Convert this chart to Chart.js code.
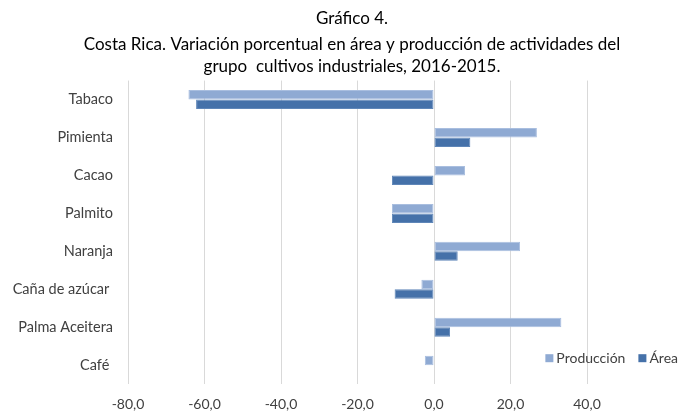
<!DOCTYPE html>
<html>
<head>
<meta charset="utf-8">
<script src="https://cdn.jsdelivr.net/npm/chart.js@4/dist/chart.umd.min.js"></script>
<style>
  html, body { margin: 0; padding: 0; background: #fff; }
  #wrap { width: 679px; height: 411px; }
</style>
</head>
<body>
<div id="wrap"><canvas id="grafico"></canvas></div>
<script>
const cultivos = ['Tabaco', 'Pimienta', 'Cacao', 'Palmito', 'Naranja', 'Caña de azúcar ', 'Palma Aceitera', 'Café '];
const produccion = [-64.2, 26.9, 8.1, -11.0, 22.5, -3.3, 33.3, -2.4];
const area = [-62.2, 9.5, -11.0, -11.0, 6.2, -10.3, 4.2, 0.0];
const ticksX = [-80, -60, -40, -20, 0, 20, 40];

const colorProd = '#8faad3';
const colorArea = '#4571a9';

// leyenda dibujada a mano, abajo a la derecha como en el original
const leyendaAbajo = {
    id: 'leyendaAbajo',
    afterDraw(chart) {
        const ctx = chart.ctx;
        const y = chart.chartArea.bottom - 26;
        ctx.save();
        ctx.font = '14px Lato';
        ctx.textBaseline = 'middle';
        let x = chart.width - 1;
        const items = chart.data.datasets.slice().reverse();
        items.forEach(ds => {
            const w = ctx.measureText(ds.label).width;
            x -= w;
            ctx.fillStyle = '#404040';
            ctx.fillText(ds.label, x, y);
            x -= 11;
            ctx.fillStyle = ds.backgroundColor;
            ctx.fillRect(x, y - 4, 8, 8);
            x -= 13;
        });
        ctx.restore();
    }
};

const ctx = document.getElementById('grafico').getContext('2d');
new Chart(ctx, {
    type: 'bar',
    data: {
        labels: cultivos,
        datasets: [{
            label: 'Producción',
            data: produccion,
            backgroundColor: colorProd,
            borderColor: '#a9bedf',
            borderWidth: 1,
            borderSkipped: false
        }, {
            label: 'Área',
            data: area,
            backgroundColor: colorArea,
            borderColor: '#5f86b8',
            borderWidth: 1,
            borderSkipped: false
        }]
    },
    options: {
        indexAxis: 'y',
        responsive: true,
        maintainAspectRatio: false,
        animation: false,
        categoryPercentage: 0.5,
        barPercentage: 1.0,
        // derecha negativa: centra el título como en el original
        layout: { padding: { left: 0, right: -25, top: 8, bottom: -14 } },
        scales: {
            x: {
                min: -80,
                max: 40,
                afterBuildTicks(scale) {
                    scale.ticks = ticksX.map(v => ({ value: v }));
                },
                grid: { color: '#d9d9d9', drawTicks: false },
                border: { display: false },
                ticks: {
                    padding: 12,
                    color: '#404040',
                    font: { family: 'Lato', size: 14 },
                    callback: v => v.toFixed(1).replace('.', ',')
                }
            },
            y: {
                afterFit(scale) { scale.width = 128; },
                grid: { display: false, drawTicks: false },
                border: { display: false },
                ticks: {
                    padding: 15,
                    color: '#404040',
                    font: { family: 'Lato', size: 14.5 }
                }
            },
            // eje vacío a la derecha: deja sitio para la leyenda
            derecha: {
                axis: 'y',
                type: 'category',
                position: 'right',
                afterFit(scale) { scale.width = 117; },
                grid: { display: false, drawTicks: false },
                border: { display: false },
                ticks: { display: false }
            }
        },
        plugins: {
            legend: { display: false },
            tooltip: { enabled: false },
            title: {
                display: true,
                text: 'Gráfico 4.',
                color: '#000',
                font: { family: 'Lato', size: 17, weight: 'normal', lineHeight: 1.2 },
                padding: { top: 0, bottom: 4 }
            },
            subtitle: {
                display: true,
                text: ['Costa Rica. Variación porcentual en área y producción de actividades del',
                       'grupo  cultivos industriales, 2016-2015.'],
                color: '#000',
                font: { family: 'Lato', size: 17, weight: 'normal', lineHeight: 1.24 },
                padding: { top: 2, bottom: 4 }
            }
        }
    },
    plugins: [leyendaAbajo]
});
</script>
</body>
</html>
